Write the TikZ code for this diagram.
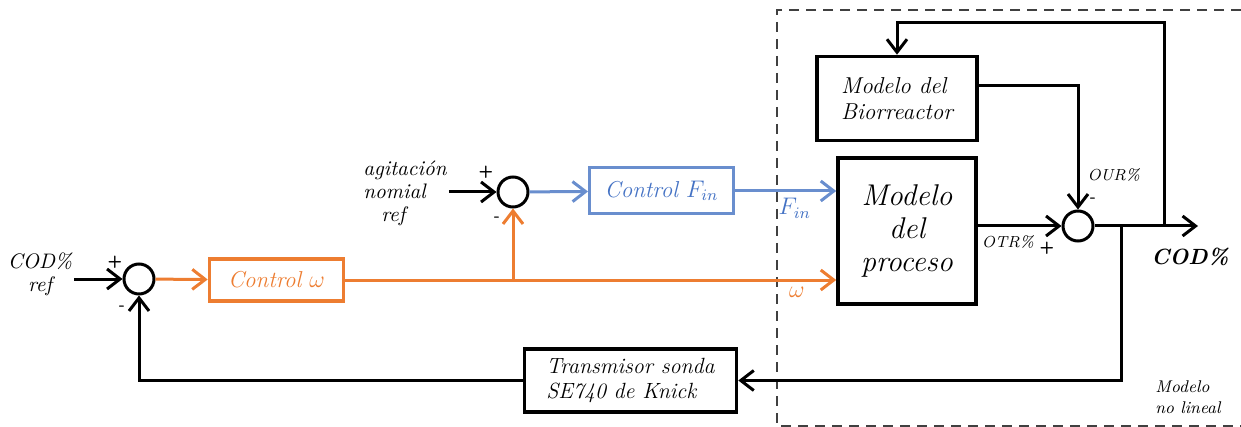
\documentclass[tikz,border=0pt]{standalone}
\usetikzlibrary{positioning,arrows.meta,calc}
\definecolor{CtlOrange}{RGB}{237,125,49}
\definecolor{CtlBlue}{RGB}{68,114,196}
\definecolor{CtlBlueSoft}{RGB}{105,142,206}
\definecolor{CtlDash}{RGB}{64,64,64}
\tikzset{
  ctl box/.style={
    draw,
    line width=1.8pt,
    align=center,
    font=\fontsize{11.5}{13}\selectfont\itshape,
    inner sep=2pt
  },
  ctl black/.style={ctl box, draw=black},
  ctl orange/.style={ctl box, draw=CtlOrange, text=CtlOrange},
  ctl blue/.style={ctl box, draw=CtlBlueSoft, line width=1.5pt, text=CtlBlue},
  ctl sum/.style={circle, draw, line width=1.5pt, minimum size=15pt, inner sep=0pt},
  ctl line/.style={line width=1.5pt},
  ctl arrow/.style={ctl line, -{Straight Barb[length=6.5pt,width=10pt]}},
  ctl sign/.style={font=\fontsize{8.5}{8.5}\selectfont\bfseries\sffamily, inner sep=0pt},
  ctl text/.style={font=\fontsize{10.5}{11.5}\selectfont\itshape, align=center, inner sep=1pt},
  ctl small/.style={font=\fontsize{8}{8}\selectfont\itshape, inner sep=1pt},
  ctl math/.style={font=\fontsize{11.5}{12}\selectfont, inner sep=1pt},
  ctl frame/.style={draw=CtlDash, line width=0.8pt, dash pattern=on 5pt off 3.5pt}
}

\begin{document}
\begin{tikzpicture}[x=0.5pt, y=-0.5pt]
\useasboundingbox (0,0) rectangle (1241,427);
% non-linear model region
\draw[ctl frame] (1241,10) -- (777,10) -- (777,426) -- (1241,426);

\node[ctl text] (codref) at (40,274) {COD\%\\ref};
\node[ctl sum] (sum1) at (139,279) {};
\node[ctl orange, minimum width=67pt, minimum height=21pt] (ctlw) at (276.5,280) {Control $\omega$};
\node[ctl text, align=left] (agit) at (405,193) {agitación\\nomial\\\hspace*{9pt}ref};
\node[ctl sum] (sum2) at (513,192) {};
\node[ctl blue, minimum width=72pt, minimum height=23pt] (ctlf) at (661.5,191) {Control $F_{in}$};
\node[ctl black, minimum width=69pt, minimum height=73pt, font=\fontsize{15}{16.5}\selectfont\itshape] (proc) at (907,231) {Modelo\\del\\proceso};
\node[ctl black, minimum width=80pt, minimum height=42pt, align=left] (bio) at (897,98.5) {Modelo del\\Biorreactor};
\node[ctl sum] (sum3) at (1078,226) {};
\node[ctl black, minimum width=106pt, minimum height=31.5pt, align=left, font=\fontsize{11}{12.5}\selectfont\itshape] (trans) at (630.5,380.5) {Transmisor sonda\\SE740 de Knick};
\node[font=\fontsize{11}{12}\selectfont\bfseries\itshape] (codlbl) at (1190,257) {COD\%};
\node[ctl text, align=left, anchor=west, font=\fontsize{8.5}{10.5}\selectfont\itshape] (nolin) at (1153,397) {Modelo\\no lineal};
\coordinate (codout) at (1198,226);
\coordinate (tapout) at (1164,226);
\coordinate (tapfb) at (1121,226);

% signs
\node[ctl sign] at ($(sum1)+(-24,-17)$) {+};
\node[ctl sign] at ($(sum1)+(-17,29)$) {-};
\node[ctl sign] at ($(sum2)+(-27,-20)$) {+};
\node[ctl sign] at ($(sum2)+(-16,27)$) {-};
\node[ctl sign] at ($(sum3)+(15,-26)$) {-};
\node[ctl sign] at ($(sum3)+(-31,22)$) {+};

\draw[ctl arrow] (codref.east |- sum1) -- (sum1);
\draw[ctl arrow, CtlOrange] (sum1) -- (ctlw);
\draw[ctl arrow, CtlOrange] (ctlw) -- (proc.west |- ctlw)
  node[ctl math, pos=0.92, below=2pt, text=CtlOrange] {$\omega$};
\draw[ctl arrow, CtlOrange] (sum2 |- ctlw) -- (sum2);
\draw[ctl arrow] (agit.east |- sum2) -- (sum2);
\draw[ctl arrow, CtlBlueSoft] (sum2) -- (ctlf);
\draw[ctl arrow, CtlBlueSoft] (ctlf) -- (proc.west |- ctlf)
  node[ctl math, pos=0.59, below=2pt, text=CtlBlue] {$F_{in}$};
\draw[ctl arrow] (proc.east |- sum3) -- (sum3)
  node[ctl small, pos=0.36, below=3pt] {OTR\%};
\draw[ctl arrow] ($(bio.east)+(0,-13)$) -| (sum3)
  node[ctl small, pos=0.86, right=3pt] {OUR\%};
\draw[ctl arrow] (sum3) -- (codout);
\draw[ctl arrow] (tapout) |- ($(bio.north)+(0,-32)$) -- (bio);
\draw[ctl arrow] (tapfb) |- (trans);
\draw[ctl arrow] (trans) -| (sum1);
\end{tikzpicture}
\end{document}
